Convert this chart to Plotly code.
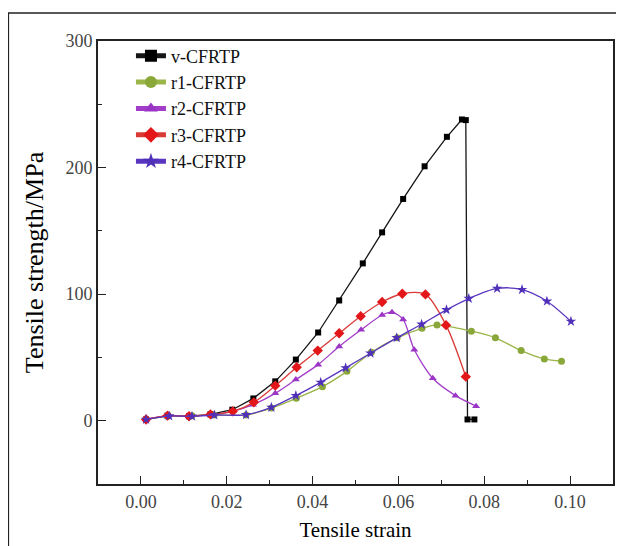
import plotly.graph_objects as go

# ---- data ----
v_x = [0.0012, 0.0062, 0.0112, 0.0162, 0.0213, 0.0262, 0.0313, 0.0361, 0.0413, 0.0462,
       0.0517, 0.0562, 0.0611, 0.0661, 0.0713, 0.0748, 0.0757, 0.0761, 0.0777]
v_y = [1, 4, 3.5, 5, 8.7, 17.6, 31.1, 48.3, 69.7, 95,
       124.3, 148.8, 175.2, 201, 224.3, 238, 237.5, 1, 1]

r1_x = [0.0012, 0.0062, 0.0119, 0.0171, 0.0245, 0.0304, 0.0362, 0.0423, 0.0480, 0.0537,
        0.0597, 0.0655, 0.0690, 0.0770, 0.0826, 0.0886, 0.0940, 0.0980]
r1_y = [1, 3.5, 4, 4.5, 4.5, 10, 17.7, 26.9, 39, 54,
        65.5, 73, 75.7, 70.7, 65.5, 55.4, 48.8, 47]

r2_x = [0.0012, 0.0062, 0.0112, 0.0162, 0.0214, 0.0261, 0.0313, 0.0361, 0.0413, 0.0462,
        0.0513, 0.0562, 0.0585, 0.0611, 0.0637, 0.0680, 0.0733, 0.0781]
r2_y = [1, 4, 3.5, 4.5, 7.4, 12.7, 21.6, 32.5, 44.3, 58.6,
        71.8, 83.5, 85.7, 80, 56, 33.5, 19.8, 11.5]

r3_x = [0.0012, 0.0062, 0.0112, 0.0162, 0.0214, 0.0263, 0.0313, 0.0363, 0.0412, 0.0462,
        0.0512, 0.0562, 0.0609, 0.0663, 0.0711, 0.0757]
r3_y = [1, 4, 3.5, 5, 7.4, 14.5, 27.7, 42.2, 55.4, 69.1,
        82.6, 93.8, 100.3, 99.8, 75.5, 34.8]

r4_x = [0.0012, 0.0066, 0.0119, 0.0171, 0.0245, 0.0304, 0.0361, 0.0419, 0.0477, 0.0535,
        0.0596, 0.0654, 0.0712, 0.0764, 0.0830, 0.0888, 0.0946, 0.1002]
r4_y = [1, 3.7, 3.5, 4.5, 4.7, 10.5, 19.8, 30.3, 41.7, 53.3,
        65.5, 76.2, 87.6, 96.5, 104.5, 103.5, 94.4, 78.5]

names = ["v-CFRTP", "r1-CFRTP", "r2-CFRTP", "r3-CFRTP", "r4-CFRTP"]

FONT = "Liberation Serif"

fig = go.Figure()

fig.add_trace(go.Scatter(
    x=v_x, y=v_y, name=names[0], mode="lines+markers",
    line=dict(color="#151515", width=1.3),
    marker=dict(symbol="square", size=6, color="#000000"),
))
fig.add_trace(go.Scatter(
    x=r1_x, y=r1_y, name=names[1], mode="lines+markers",
    line=dict(color="#9ab548", width=1.3, shape="spline", smoothing=0.8),
    marker=dict(symbol="circle", size=7, color="#8aa83a"),
))
fig.add_trace(go.Scatter(
    x=r2_x, y=r2_y, name=names[2], mode="lines+markers",
    line=dict(color="#a23dc9", width=1.3, shape="spline", smoothing=0.8),
    marker=dict(symbol="triangle-up", size=7, color="#9b35c6"),
))
fig.add_trace(go.Scatter(
    x=r3_x, y=r3_y, name=names[3], mode="lines+markers",
    line=dict(color="#d93a36", width=1.3, shape="spline", smoothing=0.8),
    marker=dict(symbol="diamond", size=8, color="#e3161a"),
))
fig.add_trace(go.Scatter(
    x=r4_x, y=r4_y, name=names[4], mode="lines+markers",
    line=dict(color="#5a36c0", width=1.3, shape="spline", smoothing=0.8),
    marker=dict(symbol="star", size=8, color="#5030b8"),
))

# page body has an 8px margin; figure coordinates are offset by it
W, H = 608, 538
L, T = 90, 33
PW, PH = 517, 443
R = W - L - PW
B = H - T - PH

def px(x):
    return (x - L) / PW

def py(y):
    return (T + PH - y) / PH

fig.update_layout(
    width=W, height=H,
    margin=dict(l=L, r=R, t=T, b=B),
    paper_bgcolor="white", plot_bgcolor="white",
    font=dict(family=FONT, color="#000000"),
    showlegend=True,
    legend=dict(
        x=0.064, y=1.008, xanchor="left", yanchor="top",
        font=dict(family=FONT, size=18, color="#111111"),
        bgcolor="rgba(0,0,0,0)", itemsizing="constant",
        tracegroupgap=0,
    ),
    shapes=[dict(
        type="rect", xref="paper", yref="paper",
        x0=px(0), x1=px(640), y0=py(560), y1=py(5),
        line=dict(color="#222222", width=1.5), fillcolor="rgba(0,0,0,0)",
        layer="below",
    )],
)

fig.update_xaxes(
    range=[-0.01, 0.11],
    tickvals=[0.0, 0.02, 0.04, 0.06, 0.08, 0.10],
    tickformat=".2f",
    ticks="inside", ticklen=8, tickwidth=1.3, tickcolor="#222222",
    minor=dict(ticks="inside", ticklen=4, tickwidth=1.2, tickcolor="#222222", dtick=0.01, tick0=0),
    showline=True, linecolor="#222222", linewidth=1.8, mirror=True,
    showgrid=False, zeroline=False,
    tickfont=dict(family=FONT, size=18, color="#444444"),
    title=dict(text="Tensile strain", font=dict(family=FONT, size=21, color="#000000"), standoff=12),
)
fig.update_yaxes(
    range=[-50, 300],
    tickvals=[0, 100, 200, 300],
    ticks="inside", ticklen=8, tickwidth=1.3, tickcolor="#222222",
    minor=dict(ticks="inside", ticklen=4, tickwidth=1.2, tickcolor="#222222", dtick=50, tick0=0),
    showline=True, linecolor="#222222", linewidth=1.8, mirror=True,
    showgrid=False, zeroline=False,
    tickfont=dict(family=FONT, size=18, color="#444444"),
    title=dict(text="Tensile strength/MPa", font=dict(family=FONT, size=26, color="#000000"), standoff=14),
)

fig.write_html("out.html")
